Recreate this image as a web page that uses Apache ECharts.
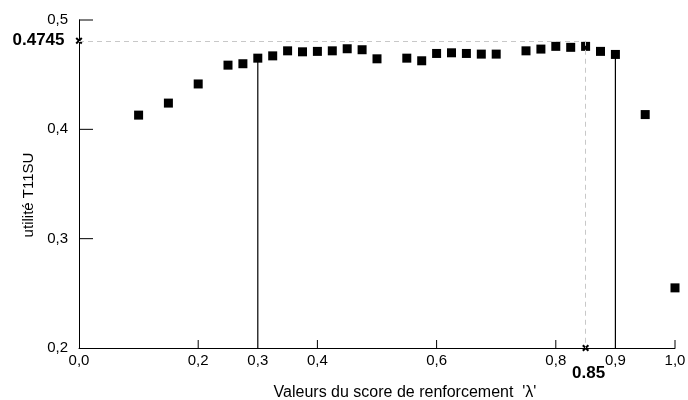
<!DOCTYPE html>
<html><head><meta charset="utf-8">
<script src="https://cdn.jsdelivr.net/npm/echarts@6/dist/echarts.min.js"></script>
<style>html,body{margin:0;padding:0;background:#fff}#c{width:688px;height:400px}</style>
</head><body><div id="c"></div>
<script>
// Data
const lambdaValues = [0.1,0.15,0.2,0.25,0.275,0.3,0.325,0.35,0.375,0.4,0.425,0.45,0.475,0.5,0.55,0.575,0.6,0.625,0.65,0.675,0.7,0.75,0.775,0.8,0.825,0.85,0.875,0.9,0.95,1.0];
const utilityValues = [0.413,0.424,0.4415,0.4587,0.46,0.4651,0.4672,0.4718,0.4709,0.4713,0.4718,0.4737,0.4728,0.4645,0.4651,0.4627,0.4694,0.47,0.4694,0.4688,0.4688,0.4718,0.4734,0.4759,0.475,0.4759,0.4713,0.4685,0.4135,0.255];
const xLabelValues = [0,0.2,0.3,0.4,0.6,0.8,0.9,1.0];
const xTickLabels = ['0,0','0,2','0,3','0,4','0,6','0,8','0,9','1,0'];
const xTickValues = [0.2,0.4,0.6,0.8,1.0];
const yTickValues = [0.3,0.4,0.5];
const yTickLabels = ['0,2','0,3','0,4','0,5'];
const dropLineLambdas = [0.3, 0.9];
const refLambda = 0.85;
const refLambdaLabel = '0.85';
const refUtilityLabel = '0.4745';
const refUtilityLevel = 0.481; // level at which the dashed guide is drawn in the reference

const font = '"Liberation Sans", Arial, Helvetica, sans-serif';
const points = lambdaValues.map((x, i) => [x, utilityValues[i]]);
const xMin = 0, xMax = 1, yMin = 0.2, yMax = 0.5;
const G = { left: 79, right: 13, top: 20, bottom: 52, W: 688, H: 400 };
const plotW = G.W - G.left - G.right, plotH = G.H - G.top - G.bottom;
// tick lengths (px) expressed in axis units so the library scales draw them
const yTickLen = 14 * (xMax - xMin) / plotW;
const xTickLen = 8 * (yMax - yMin) / plotH;

function segSeries(a, b, width) {
  return {
    type: 'line', xAxisIndex: 0, yAxisIndex: 0, silent: true, symbol: 'none', z: 2, clip: false,
    lineStyle: { color: '#000', width: width, opacity: 1 },
    data: [a, b]
  };
}

const tickSeries = [
  ...yTickValues.map(v => segSeries([xMin, v], [xMin + yTickLen, v], 1)),
  ...xTickValues.map(v => segSeries([v, yMin], [v, yMin + xTickLen], 1))
];

const dropSeries = dropLineLambdas.map(l => {
  const i = lambdaValues.findIndex(v => Math.abs(v - l) < 1e-9);
  return segSeries([l, utilityValues[i]], [l, yMin], 1.2);
});

const crossPath = 'path://M0,2L2,0L5,3L8,0L10,2L7,5L10,8L8,10L5,7L2,10L0,8L3,5Z';

const chart = echarts.init(document.getElementById('c'), null, { renderer: 'canvas' });
chart.setOption({
  animation: false,
  backgroundColor: '#fff',
  textStyle: { fontFamily: font },
  grid: { left: G.left, right: G.right, top: G.top, bottom: G.bottom, containLabel: false, outerBoundsMode: 'none' },
  xAxis: {
    type: 'value', min: xMin, max: xMax, interval: 0.1,
    name: "Valeurs du score de renforcement  'λ'",
    nameLocation: 'middle', nameGap: 37,
    nameTextStyle: { fontSize: 16, color: '#000', fontFamily: font, padding: [0, 0, 0, 56] },
    axisLine: { show: true, lineStyle: { color: '#000', width: 1 } },
    axisTick: { show: false },
    splitLine: { show: false },
    axisLabel: {
      fontSize: 15, color: '#000', fontFamily: font, margin: 5, showMinLabel: true, showMaxLabel: true,
      formatter: v => {
        const i = xLabelValues.findIndex(t => Math.abs(t - v) < 1e-6);
        return i >= 0 ? xTickLabels[i] : '';
      }
    }
  },
  yAxis: {
    type: 'value', min: yMin, max: yMax, interval: 0.1,
    name: 'utilité T11SU', nameLocation: 'middle', nameGap: 33, nameRotate: 90,
    nameTextStyle: { fontSize: 15, color: '#000', fontFamily: font, padding: [0, 22, 0, 0] },
    axisLine: { show: true, lineStyle: { color: '#000', width: 1 } },
    axisTick: { show: false },
    splitLine: { show: false },
    axisLabel: {
      fontSize: 15, color: '#000', fontFamily: font, margin: 11,
      formatter: v => yTickLabels[Math.round((v - 0.2) / 0.1)]
    }
  },
  series: [
    ...tickSeries,
    ...dropSeries,
    {
      type: 'scatter', xAxisIndex: 0, yAxisIndex: 0, symbol: 'rect', symbolSize: 9, z: 3,
      itemStyle: { color: '#000', opacity: 1 }, clip: false,
      data: points,
      markLine: {
        silent: true, symbol: 'none', label: { show: false },
        lineStyle: { color: '#c8c8c8', type: [5, 4], width: 1, opacity: 1 },
        data: [
          [{ coord: [xMin, refUtilityLevel] }, { coord: [refLambda, refUtilityLevel] }],
          [{ coord: [refLambda, refUtilityLevel] }, { coord: [refLambda, yMin] }]
        ]
      }
    },
    {
      type: 'scatter', xAxisIndex: 0, yAxisIndex: 0, symbol: crossPath, symbolSize: 7, z: 4, clip: false,
      itemStyle: { color: '#000', opacity: 1 },
      label: { show: true, color: '#000', fontWeight: 'bold', fontSize: 17, fontFamily: font },
      data: [
        { value: [xMin, refUtilityLevel], label: { position: 'left', distance: 11, formatter: refUtilityLabel } },
        { value: [refLambda, yMin], label: { position: 'bottom', distance: 13, formatter: refLambdaLabel, offset: [3, 0] } }
      ]
    }
  ]
});
</script>
</body></html>
